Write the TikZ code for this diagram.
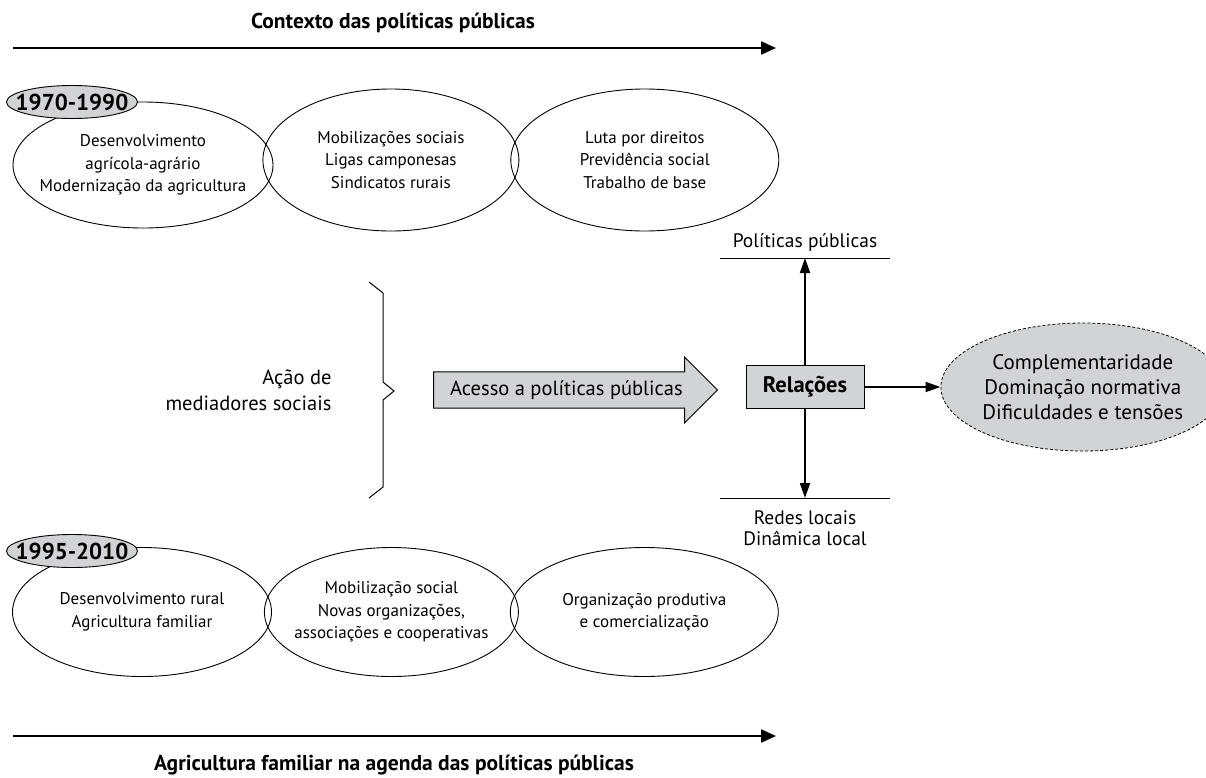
\documentclass[tikz,border=0pt]{standalone}
\usepackage{fontspec}
\setmainfont{PT Sans}
\usetikzlibrary{shapes.geometric, shapes.arrows, arrows.meta, positioning}
\definecolor{cgray}{RGB}{209,211,212}

\begin{document}
\begin{tikzpicture}[
    x=1pt, y=-1pt,
    node distance=10pt,
    era/.style={draw, ellipse, line width=0.9pt, inner xsep=-22pt, inner ysep=0pt, align=center, minimum width=#1, font=\fontsize{17}{22.5}\selectfont},
    era/.default=260pt,
    yearbox/.style={draw, ellipse, line width=0.9pt, fill=cgray, inner xsep=-10pt, inner ysep=0pt, minimum width=121pt, minimum height=33pt, font=\bfseries\fontsize{23}{26}\selectfont},
    heading/.style={font=\bfseries\fontsize{21.5}{25}\selectfont},
    label/.style={align=center, font=\fontsize{19.5}{21}\selectfont},
    ctxarrow/.style={-{Triangle[length=15pt, width=13pt]}, line width=2.2pt},
    arrow/.style={-{Triangle[length=15pt, width=10pt]}, line width=1.8pt},
    relbox/.style={draw, line width=1pt, fill=cgray, minimum width=118pt, minimum height=43pt, font=\bfseries\fontsize{22.5}{26}\selectfont},
    access/.style={single arrow, draw, line width=1pt, fill=cgray, single arrow head extend=11pt, minimum width=66pt, minimum height=284pt, font=\fontsize{20.5}{24}\selectfont},
    outcome/.style={draw, ellipse, line width=0.8pt, dash pattern=on 3pt off 2pt, fill=cgray, align=center, minimum width=264pt, minimum height=128pt, inner sep=0pt, font=\fontsize{21}{25}\selectfont}
]
\useasboundingbox (0,0) rectangle (1206,777);

% top context
\node[heading] (ctx) at (393,23) {Contexto das políticas públicas};
\coordinate (ctxL) at (13,48);
\coordinate (ctxR) at (776,48);
\draw[ctxarrow] (ctxL) -- (ctxR);

% 1970-1990
\node[era=260pt, minimum height=126pt] (e1) at (143,165) {Desenvolvimento\\agrícola-agrário\\Modernização da agricultura};
\node[era=256pt, minimum height=142pt, right=-11pt of e1, yshift=5pt] (e2) {Mobilizações sociais\\Ligas camponesas\\Sindicatos rurais};
\node[era=268pt, minimum height=142pt, right=-9pt of e2] (e3) {Luta por direitos\\Previdência social\\Trabalho de base};
\node[yearbox] (y1) at (72,102) {1970-1990};

% mediators
\node[align=right, anchor=east, font=\fontsize{20.5}{26}\selectfont] (med) at (335,390) {Ação de\\mediadores sociais};
\draw[line width=1pt] (369,282) -- (383,293) -- (383,382) -- (394,391) -- (383,400) -- (383,487) -- (369,498);
\node[access, anchor=tail] (acc) at (433,390) {Acesso a políticas públicas};

% relations
\node[relbox] (rel) at (805,387) {Relações};
\node[label] (pp) at (805,242) {Políticas públicas};
\coordinate (ppL) at (720,258);
\coordinate (ppR) at (890,258);
\draw[line width=0.9pt] (ppL) -- (ppR);
\coordinate (rlL) at (720,498);
\coordinate (rlR) at (890,498);
\draw[line width=0.9pt] (rlL) -- (rlR);
\node[label] (loc) at (805,528) {Redes locais\\Dinâmica local};
\node[outcome, right=76pt of rel] (out) {Complementaridade\\Dominação normativa\\Dificuldades e tensões};

\draw[arrow] (rel.north) -- (rel.north |- ppL);
\draw[arrow] (rel.south) -- (rel.south |- rlL);
\draw[arrow] (rel.east) -- (out.west);

% 1995-2010
\node[era=259pt, minimum height=129pt] (f1) at (142,612) {Desenvolvimento rural\\Agricultura familiar};
\node[era=254pt, minimum height=129pt, right=-8pt of f1] (f2) {Mobilização social\\Novas organizações,\\associações e cooperativas};
\node[era=268pt, minimum height=129pt, right=-9pt of f2] (f3) {Organização produtiva\\e comercialização};
\node[yearbox] (y2) at (72,551) {1995-2010};

% bottom context
\coordinate (agL) at (13,736);
\coordinate (agR) at (776,736);
\draw[ctxarrow] (agL) -- (agR);
\node[heading] (ag) at (394,765) {Agricultura familiar na agenda das políticas públicas};

\end{tikzpicture}
\end{document}
